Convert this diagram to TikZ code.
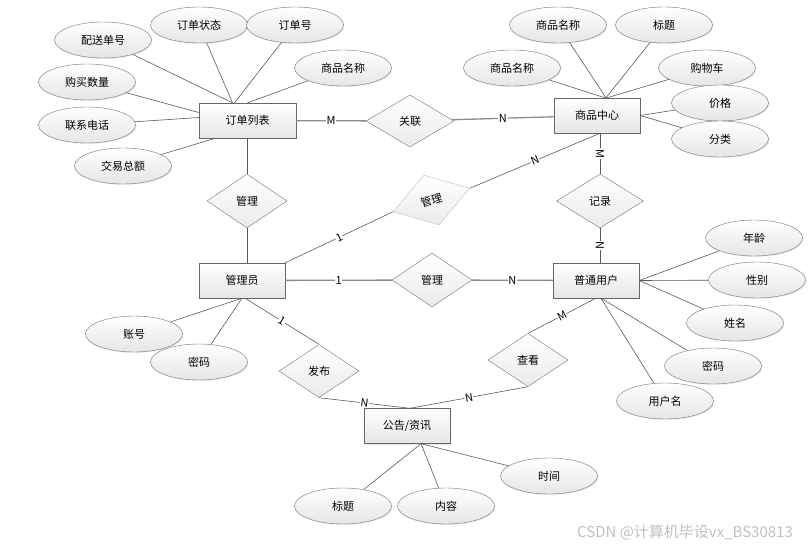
\documentclass[tikz,border=0pt]{standalone}
\usepackage{fontspec}
\setmainfont{Noto Sans CJK SC}
\usetikzlibrary{shapes.geometric,shadows}

\begin{document}
\begin{tikzpicture}[x=1pt, y=-1pt,
    font=\fontsize{11}{13}\selectfont,
    entity/.style={rectangle, draw=black!60, top color=white, bottom color=black!10,
      minimum width=86pt, minimum height=35pt, inner sep=0pt,
      drop shadow={opacity=0.2, shadow xshift=1pt, shadow yshift=-1pt}},
    attr/.style={ellipse, draw=black!55, top color=white, bottom color=black!10,
      minimum width=97pt, minimum height=36pt, inner sep=0pt,
      drop shadow={opacity=0.15, shadow xshift=1pt, shadow yshift=-1pt}},
    rel/.style={diamond, draw=black!55, top color=white, bottom color=black!8,
      minimum width=80pt, minimum height=54pt, inner sep=0pt},
    link/.style={draw=black!65, line width=0.6pt},
    main link/.style={draw=black!45, line width=1.3pt},
    card/.style={fill=white, inner sep=0.6pt, font=\fontsize{11}{11}\selectfont}]
    \useasboundingbox (0,0) rectangle (812,549);

    % 実体の定義
    \node[entity, minimum width=97pt] (ddlb) at (247.5,120.5) {订单列表};
    \node[entity] (spzx) at (597,115.5) {商品中心};
    \node[entity] (gly) at (242,280.5) {管理员};
    \node[entity] (ptyh) at (596,280.5) {普通用户};
    \node[entity] (gg) at (407,426) {公告/资讯};

    % 関係の定義
    \node[rel, minimum width=88pt, minimum height=52pt] (gll) at (410,121) {关联};
    \node[rel] (gl1) at (247,201) {管理};
    \node[rel, draw=black!25, minimum height=52pt, rotate=17] (gl2) at (431.5,200) {管理};
    \node[rel, minimum width=87pt] (jl) at (600,201) {记录};
    \node[rel] (gl3) at (432,280) {管理};
    \node[rel, minimum height=53pt] (fb) at (319,371) {发布};
    \node[rel, minimum height=53pt] (ck) at (528,360) {查看};

    % 属性の定義
    \node[attr] (psdh) at (103,40) {配送单号};
    \node[attr] (ddzt) at (199,25) {订单状态};
    \node[attr] (ddh) at (295,25) {订单号};
    \node[attr] (spmc1) at (343,68) {商品名称};
    \node[attr] (gmsl) at (87,82) {购买数量};
    \node[attr] (lxdh) at (87,125) {联系电话};
    \node[attr] (jyze) at (123,166) {交易总额};

    \node[attr] (spmc2) at (558,25) {商品名称};
    \node[attr] (bt1) at (664,25) {标题};
    \node[attr] (spmc3) at (512,68) {商品名称};
    \node[attr] (gwc) at (707,68) {购物车};
    \node[attr] (jg) at (720,103) {价格};
    \node[attr] (fl) at (720,139) {分类};

    \node[attr] (nl) at (754,238) {年龄};
    \node[attr] (xb) at (757,280) {性别};
    \node[attr] (xm) at (735,323) {姓名};
    \node[attr] (mm1) at (713,366) {密码};
    \node[attr] (yhm) at (665,401) {用户名};

    \node[attr] (zh) at (134,334) {账号};
    \node[attr] (mm2) at (199,362) {密码};

    \node[attr] (bt2) at (343,506) {标题};
    \node[attr] (nr) at (446,506) {内容};
    \node[attr] (sj) at (549,476) {时间};

    % 属性の線
    \draw[link] (psdh) -- ([xshift=-15pt]ddlb.north);
    \draw[link] (ddzt) -- ([xshift=-15pt]ddlb.north);
    \draw[link] (ddh) -- ([xshift=-13pt]ddlb.north);
    \draw[link] (spmc1) -- (ddlb.north);
    \draw[link] (gmsl) -- ([yshift=8pt]ddlb.west);
    \draw[link] (lxdh) -- ([yshift=3pt]ddlb.west);
    \draw[link] (jyze) -- ([xshift=-32pt]ddlb.south);

    \draw[link] (spmc2) -- ([xshift=9pt]spzx.north);
    \draw[link] (bt1) -- ([xshift=9pt]spzx.north);
    \draw[link] (spmc3) -- ([xshift=8pt]spzx.north);
    \draw[link] (gwc) -- ([xshift=10pt]spzx.north);
    \draw[link] (jg) -- (spzx.east);
    \draw[link] (fl) -- (spzx.east);

    \draw[link] (nl) -- (ptyh.east);
    \draw[link] (xb) -- (ptyh.east);
    \draw[link] (xm) -- (ptyh.east);
    \draw[link] (mm1) -- ([xshift=5pt]ptyh.south);
    \draw[link] (yhm) -- ([xshift=5pt]ptyh.south);

    \draw[link] (zh) -- (gly.south);
    \draw[link] (mm2) -- (gly.south);

    \draw[link] (bt2) -- ([xshift=14pt]gg.south);
    \draw[link] (nr) -- ([xshift=14pt]gg.south);
    \draw[link] (sj) -- ([xshift=14pt]gg.south);

    % 関係の線
    \draw[main link] (ddlb) -- node[card] {M} (gll);
    \draw[main link] (gll) -- node[card] {N} (spzx);
    \draw[link] (ddlb.south -| gl1) -- (gl1.north);
    \draw[link] (gl1.south) -- (gl1.south |- gly.north);
    \draw[link] (gly.north east) -- node[card, sloped] {1} (gl2.west);
    \draw[link] (gl2.east) -- node[card, sloped] {N} (jl.north |- spzx.south);
    \draw[link] (jl.north |- spzx.south) -- node[card, sloped] {M} (jl.north);
    \draw[link] (jl.south) -- node[card, sloped] {N} (jl.south |- ptyh.north);
    \draw[main link] (gly) -- node[card] {1} (gl3);
    \draw[main link] (gl3) -- node[card] {N} (ptyh);
    \draw[link] ([xshift=3pt]gly.south) -- node[card, sloped] {1} (fb.north);
    \draw[link] (fb.south) -- node[card, sloped] {N} ([xshift=3pt]gg.north);
    \draw[link] (ck.south) -- node[card, sloped] {N} ([xshift=3pt]gg.north);
    \draw[link] (ck.north) -- node[card, sloped] {M} (ptyh.south);

    % 透かし
    \node[text=black!25, font=\fontsize{15}{16}\selectfont] (wm) at (685,532) {CSDN @计算机毕设vx\_BS30813};
\end{tikzpicture}
\end{document}
